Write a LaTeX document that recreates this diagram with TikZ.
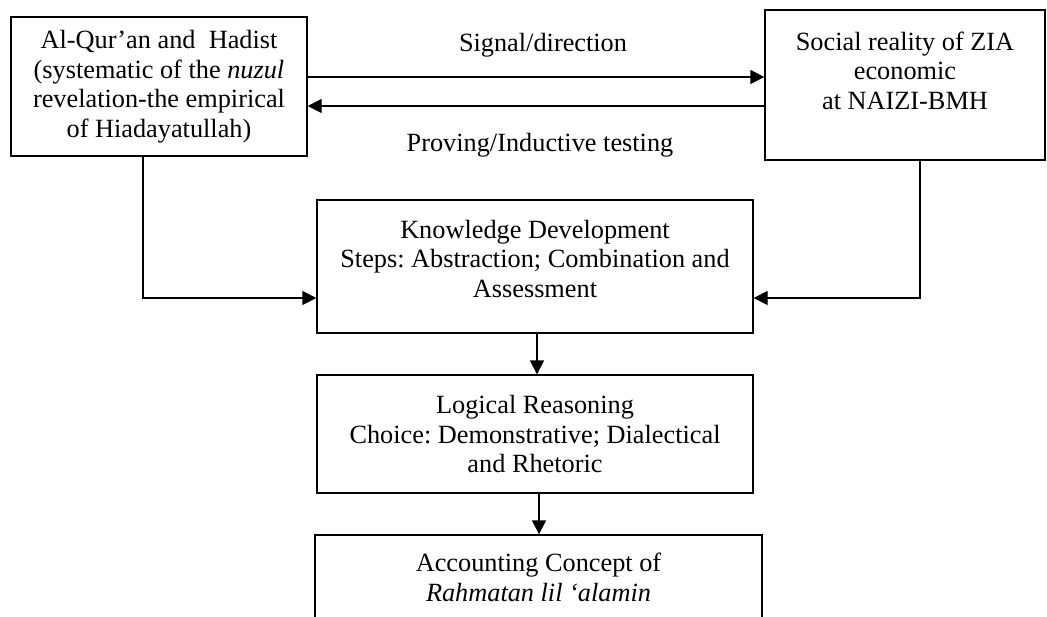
\documentclass[tikz,border=0pt]{standalone}
\usepackage{fontspec}
\setmainfont{Liberation Serif}
\frenchspacing
\usetikzlibrary{positioning,arrows.meta}

\begin{document}
\begin{tikzpicture}[x=1pt,y=-1pt,
		box/.style={draw,line width=1.3pt,align=center,inner sep=0pt,font=\fontsize{26.3}{29.5}\selectfont},
		lbl/.style={font=\fontsize{26.3}{29.5}\selectfont},
		arr/.style={line width=1.3pt,-{Triangle[length=14pt,width=14pt]}}]
			\useasboundingbox (0,0) rectangle (1047,616);
			\node[box,minimum width=296pt,minimum height=139pt] (quran) at (159,86.5) {Al-Qur’an and \ Hadist\\(systematic of the \textit{nuzul}\\revelation-the empirical\\of Hiadayatullah)};
			\node[box,minimum width=280pt,minimum height=150pt] (social) at (905,85) {Social reality of ZIA\\economic\\at NAIZI-BMH\\\mbox{}};
			\node[box,minimum width=436pt,minimum height=133pt] (knowdev) at (535,266.5) {Knowledge Development\\Steps: Abstraction; Combination and\\Assessment\\[-14pt]\mbox{}};
			\node[box,minimum width=436pt,minimum height=118pt] (logic) at (535,434) {Logical Reasoning\\Choice: Demonstrative; Dialectical\\and Rhetoric};
			\node[box,minimum width=447pt,minimum height=85pt] (concept) at (538.5,577.5) {Accounting Concept of\\\textit{Rahmatan lil ‘alamin}};
			\node[lbl] (signal) at (543,45) {Signal/direction};
			\node[lbl] (proving) at (540,145) {Proving/Inductive testing};
			\draw[arr] ([yshift=9.5pt]quran.east) -- ([yshift=9.5pt]quran.east -| social.west);
			\draw[arr] ([yshift=-19.5pt]quran.east -| social.west) -- ([yshift=-19.5pt]quran.east);
			\draw[arr] ([xshift=-16pt]quran.south) |- ([yshift=-31.5pt]knowdev.west);
			\draw[arr] ([xshift=15pt]social.south) |- ([yshift=-31.5pt]knowdev.east);
			\draw[arr] ([xshift=2pt]knowdev.south) -- ([xshift=2pt]logic.north);
			\draw[arr] ([xshift=4pt]logic.south) -- ([xshift=4pt]logic.south |- concept.north);
		\end{tikzpicture}
\end{document}
